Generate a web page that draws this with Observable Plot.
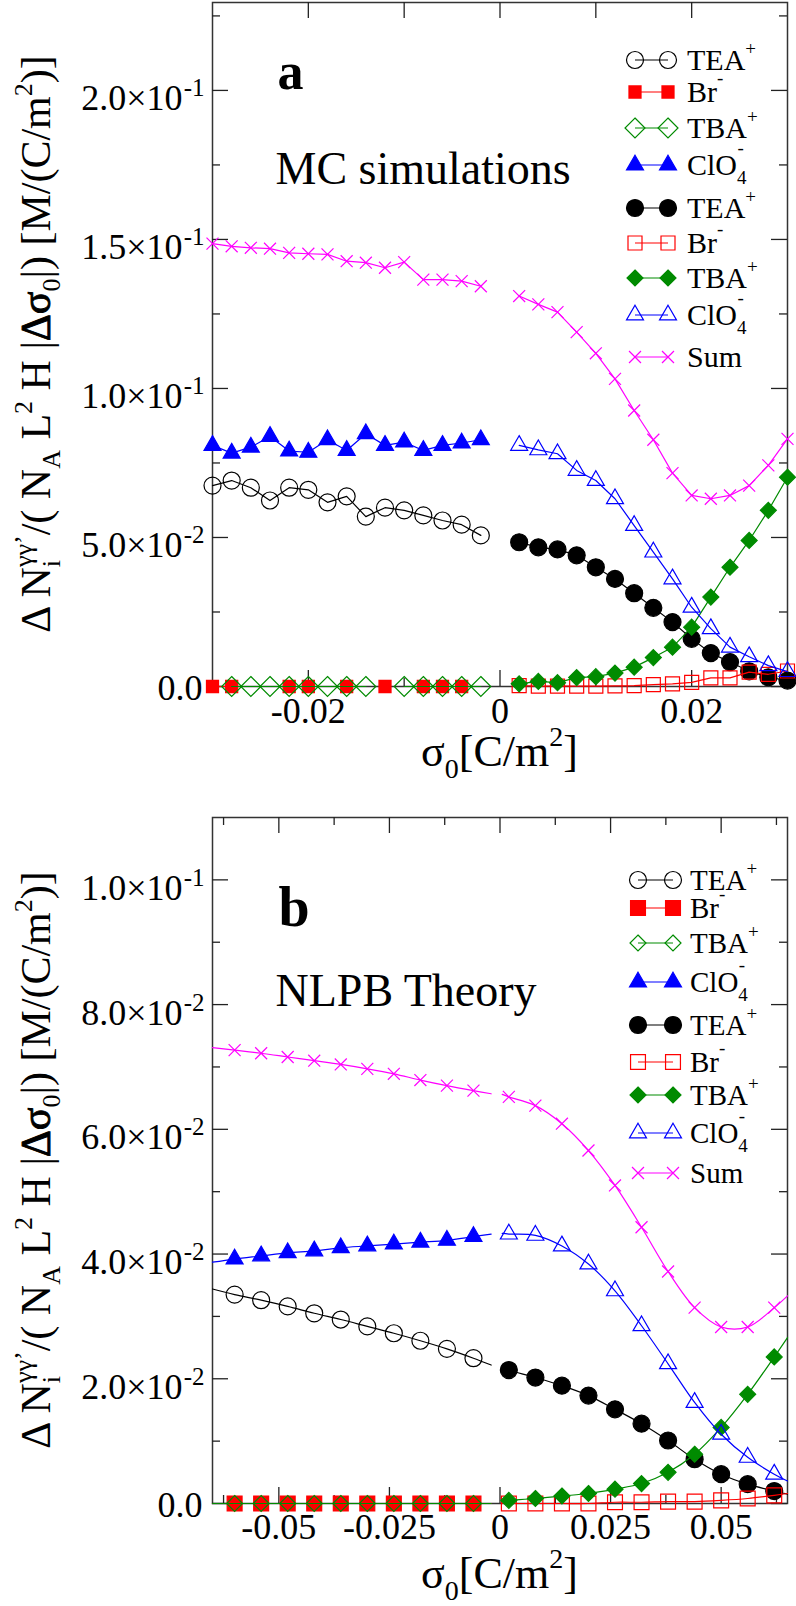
<!DOCTYPE html>
<html><head><meta charset="utf-8">
<script src="https://cdn.jsdelivr.net/npm/d3@7"></script>
<script src="https://cdn.jsdelivr.net/npm/@observablehq/plot@0.6"></script>
<style>
html,body{margin:0;padding:0;background:#fff;overflow:hidden}
#chart svg{display:block}
</style></head><body><div id="chart"></div>
<script>
// ================= DATA =================
// ---- panel a (MC simulations) ----
const xNegA = [-0.030,-0.028,-0.026,-0.024,-0.022,-0.020,-0.018,-0.016,-0.014,-0.012,-0.010,-0.008,-0.006,-0.004,-0.002];
const xPosA = [0.002,0.004,0.006,0.008,0.010,0.012,0.014,0.016,0.018,0.020,0.022,0.024,0.026,0.028,0.030];
const teaOpenA    = [0.0674,0.0691,0.0667,0.0624,0.0667,0.0660,0.0618,0.0638,0.0570,0.0600,0.0591,0.0574,0.0557,0.0543,0.0507];
const brFilledA   = [0,0,null,null,0,0,null,0,null,0,null,0,0,0,null];
const tbaOpenA    = [null,0,0,0,0,0,0,0,0,null,0,0,0,0,0];
const clo4FilledA = [0.0809,0.0783,0.0803,0.0839,0.0790,0.0786,0.0828,0.0792,0.0848,0.0809,0.0820,0.0792,0.0809,0.0817,0.0828];
const sumNegA     = [0.1486,0.1477,0.1472,0.1469,0.1455,0.1452,0.1450,0.1427,0.1422,0.1405,0.1424,0.1365,0.1365,0.1360,0.1343];
const teaFilledA  = [0.0484,0.0467,0.0460,0.0440,0.0400,0.0361,0.0313,0.0264,0.0216,0.0160,0.0112,0.0082,0.0051,0.0031,0.0020];
const brOpenA     = [0.0003,0.0001,0.0001,0.0001,0.0001,0.0002,0.0003,0.0006,0.0009,0.0014,0.0029,0.0029,0.0048,0.0041,0.0052];
const tbaFilledA  = [0.0009,0.0017,0.0013,0.0030,0.0033,0.0045,0.0065,0.0097,0.0132,0.0199,0.0300,0.0400,0.0490,0.0591,0.0702];
const clo4OpenA   = [0.0809,0.0794,0.0781,0.0725,0.0691,0.0630,0.0540,0.0451,0.0361,0.0266,0.0194,0.0132,0.0100,0.0070,0.0050];
const sumPosA     = [0.1310,0.1282,0.1256,0.1189,0.1118,0.1032,0.0926,0.0828,0.0716,0.0641,0.0630,0.0641,0.0674,0.0742,0.0831];

// ---- panel b (NLPB theory) ----
const xNegB = [-0.060,-0.054,-0.048,-0.042,-0.036,-0.030,-0.024,-0.018,-0.012,-0.006];
const xPosB = [0.002,0.008,0.014,0.020,0.026,0.032,0.038,0.044,0.050,0.056,0.062];
const teaOpenB    = [0.0335,0.0326,0.0316,0.0305,0.0295,0.0284,0.0273,0.0261,0.0248,0.0233];
const brFilledB   = [0,0,0,0,0,0,0,0,0,0];
const tbaOpenB    = [0,0,0,0,0,0,0,0,0,0];
const clo4FilledB = [0.0392,0.0397,0.0402,0.0405,0.0410,0.0413,0.0416,0.0419,0.0422,0.0428];
const sumNegB     = [0.0727,0.0722,0.0716,0.0710,0.0704,0.0697,0.0689,0.0679,0.0670,0.0662];
const teaFilledB  = [0.0214,0.0202,0.0189,0.0173,0.0151,0.0128,0.0101,0.0071,0.0047,0.0031,0.0020];
const brOpenB     = [0,0,0,0,0.0002,0.0002,0.0003,0.0003,0.0005,0.0008,0.0013];
const tbaFilledB  = [0.0005,0.0008,0.0012,0.0016,0.0023,0.0032,0.0050,0.0079,0.0122,0.0175,0.0235];
const clo4OpenB   = [0.0432,0.0430,0.0413,0.0384,0.0341,0.0285,0.0224,0.0162,0.0111,0.0074,0.0047];
const sumPosB     = [0.0652,0.0638,0.0609,0.0566,0.0510,0.0443,0.0372,0.0314,0.0283,0.0283,0.0314];
// theory curves continue past the markers: values read at the curve ends
const curveEndsXNegB = [-0.065,-0.002];
const curveEndsXPosB = [0.0005,0.065];
const teaOpenEndsB = [0.0344,0.0222], brFilledEndsB = [0,0], tbaOpenEndsB = [0,0],
      clo4FilledEndsB = [0.0387,0.0432], sumNegEndsB = [0.0731,0.0657];
const teaFilledEndsB = [0.0218,0.0015], brOpenEndsB = [0,0.0016], tbaFilledEndsB = [0.0004,0.0266],
      clo4OpenEndsB = [0.0433,0.0036], sumPosEndsB = [0.0656,0.0333];

// ---- ticks ----
const yTickValsA = [0,0.05,0.10,0.15,0.20];
const yTickMantA = ["0.0","5.0×10","1.0×10","1.5×10","2.0×10"];
const yTickExpA  = ["","-2","-1","-1","-1"];
const yMinorA    = [0.025,0.075,0.125,0.175,0.225];
const xTickValsA = [-0.02,0,0.02];
const xTickLabA  = ["-0.02","0","0.02"];
const xMinorA    = [-0.01,0.01];

const yTickValsB = [0,0.02,0.04,0.06,0.08,0.10];
const yTickMantB = ["0.0","2.0×10","4.0×10","6.0×10","8.0×10","1.0×10"];
const yTickExpB  = ["","-2","-2","-2","-2","-1"];
const yMinorB    = [0.01,0.03,0.05,0.07,0.09];
const xTickValsB = [-0.05,-0.025,0,0.025,0.05];
const xTickLabB  = ["-0.05","-0.025","0","0.025","0.05"];
const xMinorB    = [-0.0625,-0.0375,-0.0125,0.0125,0.0375,0.0625];

const legendKeys   = ["teaOpen","brFilled","tbaOpen","clo4Filled","teaFilled","brOpen","tbaFilled","clo4Open","sum"];
const legendLabels = ["TEA+","Br-","TBA+","ClO4-","TEA+","Br-","TBA+","ClO4-","Sum"];

// ================= STYLE =================
const FONT = "'Liberation Serif','Times New Roman',Times,serif";
const BLACK="#000", RED="#ff0000", GREEN="#008b00", BLUE="#0000ff", MAGENTA="#ff00ff";
const SYM = {circle:d3.symbolCircle, square:d3.symbolSquare, diamond:d3.symbolDiamond2, triangle:d3.symbolTriangle, times:d3.symbolTimes};
const seriesStyle = {
  teaOpen:   {sym:"circle",   fill:"none", stroke:BLACK},
  brFilled:  {sym:"square",   fill:RED,    stroke:RED},
  tbaOpen:   {sym:"diamond",  fill:"none", stroke:GREEN},
  clo4Filled:{sym:"triangle", fill:BLUE,   stroke:BLUE},
  teaFilled: {sym:"circle",   fill:BLACK,  stroke:BLACK},
  brOpen:    {sym:"square",   fill:"none", stroke:RED},
  tbaFilled: {sym:"diamond",  fill:GREEN,  stroke:GREEN},
  clo4Open:  {sym:"triangle", fill:"none", stroke:BLUE},
  sum:       {sym:"times",    fill:"none", stroke:MAGENTA}
};

function rich(sel, parts) {
  let cur = 0;
  for (const p of parts) {
    const s = p.s || 0;
    const ts = sel.append("tspan").text(p.t).attr("dy", s - cur);
    if (p.dx) ts.attr("dx", p.dx);
    if (p.f) ts.style("font-size", p.f + "px");
    if (p.bold) ts.attr("stroke", "black").attr("stroke-width", 0.9);
    cur = s;
  }
}
function legendParts(label) {
  if (label === "Sum") return [{t:"Sum"}];
  const charge = label.slice(-1);
  let base = label.slice(0, -1);
  const supS = charge === "+" ? -15 : -18;
  if (base.endsWith("4")) {
    base = base.slice(0, -1);
    return [{t:base}, {t:"4", s:9, f:19}, {t:charge, s:supS-3, f:19, dx:-9}];
  }
  return [{t:base}, {t:charge, s:supS, f:19}];
}

function buildPanel(P) {
  const W = 796, ML = 212, MR = 9;
  const fw = W - ML - MR, fh = P.height - P.mt - P.mb;
  const tk = {stroke:"#222", strokeWidth:1.3};
  const marks = [Plot.frame({stroke:"#333", strokeWidth:1.5})];
  marks.push(Plot.tickX(P.xMajor, {x:d=>d, insetTop: fh-16, ...tk}));
  marks.push(Plot.tickX(P.xMinor, {x:d=>d, insetTop: fh-8, ...tk}));
  marks.push(Plot.tickX(P.xTopMajor, {x:d=>d, insetBottom: fh-16, ...tk}));
  marks.push(Plot.tickX(P.xTopMinor, {x:d=>d, insetBottom: fh-8, ...tk}));
  marks.push(Plot.tickY(P.yMajor, {y:d=>d, insetRight: fw-16, ...tk}));
  marks.push(Plot.tickY(P.yMinor, {y:d=>d, insetRight: fw-8, ...tk}));
  marks.push(Plot.tickY(P.yMajor, {y:d=>d, insetLeft: fw-16, ...tk}));
  marks.push(Plot.tickY(P.yMinor, {y:d=>d, insetLeft: fw-8, ...tk}));
  // tick labels
  const yRows = P.yMajor.map((v,i)=>({v, m:P.yMant[i], e:P.yExp[i]}));
  marks.push(Plot.text(yRows.filter(d=>d.e===""), {y:"v", text:"m", frameAnchor:"left", textAnchor:"end", lineAnchor:"bottom", dx:-10, dy:13, fontSize:36}));
  marks.push(Plot.text(yRows.filter(d=>d.e!==""), {y:"v", text:"m", frameAnchor:"left", textAnchor:"end", lineAnchor:"bottom", dx:-30, dy:20, fontSize:36}));
  marks.push(Plot.text(yRows.filter(d=>d.e!==""), {y:"v", text:"e", frameAnchor:"left", textAnchor:"end", lineAnchor:"bottom", dx:-8, dy:6, fontSize:25}));
  const xRows = P.xMajor.map((v,i)=>({v, t:P.xLab[i]}));
  marks.push(Plot.text(xRows, {x:"v", text:"t", frameAnchor:"bottom", lineAnchor:"bottom", dy:P.xLabDy, fontSize:36}));
  // panel annotations
  marks.push(Plot.text([P.tag], {text:d=>d, frameAnchor:"top-left", textAnchor:"start", lineAnchor:"bottom", dx:P.tagDx, dy:P.tagDy, fontSize:P.tagSize, fontWeight:"bold"}));
  marks.push(Plot.text([P.note], {text:d=>d, frameAnchor:"top-left", textAnchor:"start", lineAnchor:"bottom", dx:63, dy:P.noteDy, fontSize:46}));
  // series
  for (const s of P.series) {
    const st = seriesStyle[s.key];
    const pts = s.x.map((x,i)=>({x, y:s.y[i]}));
    let linePts = pts;
    if (s.endsX) linePts = [{x:s.endsX[0], y:s.endsY[0]}, ...pts, {x:s.endsX[1], y:s.endsY[1]}];
    marks.push(Plot.line(linePts, {x:"x", y:"y", stroke:st.stroke, strokeWidth:1.2, curve:P.curve}));
    marks.push(Plot.dot(pts, {x:"x", y:"y", symbol:SYM[st.sym], r:P.r[s.key], fill:st.fill, stroke:st.stroke, strokeWidth:1.2}));
  }
  const svg = Plot.plot({
    width: W, height: P.height, marginLeft: ML, marginRight: MR, marginTop: P.mt, marginBottom: P.mb,
    x: {domain: P.xDomain, axis: null}, y: {domain: P.yDomain, axis: null},
    style: {fontFamily: FONT, background: "white", overflow: "visible", color: "black"},
    marks
  });
  const root = d3.select(svg);
  // legend
  const L = P.legend;
  const g = root.append("g");
  legendKeys.forEach((key, i) => {
    const st = seriesStyle[key];
    const y = P.mt + L.dys[i];
    g.append("line").attr("x1", L.x1).attr("x2", L.x2).attr("y1", y).attr("y2", y)
      .attr("stroke", st.stroke).attr("stroke-width", 1.2);
    for (const x of [L.x1, L.x2]) {
      g.append("path").attr("transform", `translate(${x},${y})`)
        .attr("d", d3.symbol(SYM[st.sym], Math.PI * P.r[key] ** 2)())
        .attr("fill", st.fill).attr("stroke", st.stroke).attr("stroke-width", 1.2);
    }
    const t = g.append("text").attr("x", L.xt).attr("y", y + 10).attr("text-anchor", "start")
      .style("font-family", FONT).style("font-size", L.fs + "px").attr("fill", "black");
    rich(t, legendParts(legendLabels[i]));
  });
  // x axis title
  const xt = root.append("text").attr("x", ML + fw/2).attr("y", P.mt + fh + P.xTitleDy)
    .attr("text-anchor", "middle").style("font-family", FONT).style("font-size", "44px").attr("fill", "black");
  rich(xt, [{t:"σ"}, {t:"0", s:12, f:28}, {t:"[C/m"}, {t:"2", s:-20, f:28}, {t:"]"}]);
  // y axis title
  const yt = root.append("text").attr("transform", `translate(50,${P.mt + fh/2}) rotate(-90)`)
    .attr("text-anchor", "middle").style("font-family", FONT).style("font-size", "42px").attr("fill", "black");
  rich(yt, [
    {t:"Δ N"}, {t:"i", s:10, f:26}, {t:"γγ’", s:-18, f:26, dx:-7},
    {t:"/( N"}, {t:"A", s:10, f:26}, {t:" L"}, {t:"2", s:-18, f:26},
    {t:" H |"}, {t:"Δσ", bold:true}, {t:"0", s:10, f:26}, {t:"|) [M/(C/m"}, {t:"2", s:-18, f:26}, {t:")]"}
  ]);
  return svg;
}

const rA = {teaOpen:8.5, brFilled:6.8, tbaOpen:9, clo4Filled:6.3, teaFilled:8.5, brOpen:7.9, tbaFilled:7.2, clo4Open:6.3, sum:5.5};
const rB = {teaOpen:8.5, brFilled:8.4, tbaOpen:7.2, clo4Filled:6.3, teaFilled:8.5, brOpen:8.4, tbaFilled:7.2, clo4Open:6.3, sum:5.5};

const svgA = buildPanel({
  height: 800, mt: 2, mb: 114,
  xDomain: [-0.03, 0.03], yDomain: [0, 0.2295],
  xMajor: xTickValsA, xLab: xTickLabA, xMinor: xMinorA,
  xTopMajor: [...xTickValsA, ...xMinorA], xTopMinor: [],
  yMajor: yTickValsA, yMant: yTickMantA, yExp: yTickExpA, yMinor: yMinorA,
  xLabDy: 36, xTitleDy: 80,
  tag: "a", tagDx: 65, tagDy: 86, tagSize: 52,
  note: "MC simulations", noteDy: 181,
  curve: "linear", r: rA,
  legend: {x1: 635, x2: 668, xt: 687, fs: 30, dys: [58, 90, 126, 163, 206, 241, 276, 313, 355]},
  series: [
    {key:"teaOpen", x:xNegA, y:teaOpenA},
    {key:"brFilled", x:xNegA, y:brFilledA},
    {key:"tbaOpen", x:xNegA, y:tbaOpenA},
    {key:"clo4Filled", x:xNegA, y:clo4FilledA},
    {key:"teaFilled", x:xPosA, y:teaFilledA},
    {key:"brOpen", x:xPosA, y:brOpenA},
    {key:"tbaFilled", x:xPosA, y:tbaFilledA},
    {key:"clo4Open", x:xPosA, y:clo4OpenA},
    {key:"sum", x:xNegA, y:sumNegA},
    {key:"sum", x:xPosA, y:sumPosA}
  ]
});

const svgB = buildPanel({
  height: 806, mt: 17, mb: 103,
  xDomain: [-0.065, 0.065], yDomain: [0, 0.11],
  xMajor: xTickValsB, xLab: xTickLabB, xMinor: xMinorB,
  xTopMajor: xTickValsB, xTopMinor: xMinorB,
  yMajor: yTickValsB, yMant: yTickMantB, yExp: yTickExpB, yMinor: yMinorB,
  xLabDy: 35, xTitleDy: 85,
  tag: "b", tagDx: 66, tagDy: 108, tagSize: 56,
  note: "NLPB Theory", noteDy: 188,
  curve: "catmull-rom", r: rB,
  legend: {x1: 638, x2: 673, xt: 690, fs: 29, dys: [63, 91, 126, 165, 208, 245, 278, 316, 356]},
  series: [
    {key:"teaOpen", x:xNegB, y:teaOpenB, endsX:curveEndsXNegB, endsY:teaOpenEndsB},
    {key:"brFilled", x:xNegB, y:brFilledB, endsX:curveEndsXNegB, endsY:brFilledEndsB},
    {key:"tbaOpen", x:xNegB, y:tbaOpenB, endsX:curveEndsXNegB, endsY:tbaOpenEndsB},
    {key:"clo4Filled", x:xNegB, y:clo4FilledB, endsX:curveEndsXNegB, endsY:clo4FilledEndsB},
    {key:"teaFilled", x:xPosB, y:teaFilledB, endsX:curveEndsXPosB, endsY:teaFilledEndsB},
    {key:"brOpen", x:xPosB, y:brOpenB, endsX:curveEndsXPosB, endsY:brOpenEndsB},
    {key:"tbaFilled", x:xPosB, y:tbaFilledB, endsX:curveEndsXPosB, endsY:tbaFilledEndsB},
    {key:"clo4Open", x:xPosB, y:clo4OpenB, endsX:curveEndsXPosB, endsY:clo4OpenEndsB},
    {key:"sum", x:xNegB, y:sumNegB, endsX:curveEndsXNegB, endsY:sumNegEndsB},
    {key:"sum", x:xPosB, y:sumPosB, endsX:curveEndsXPosB, endsY:sumPosEndsB}
  ]
});

document.getElementById("chart").append(svgA, svgB);
</script>
</body></html>
